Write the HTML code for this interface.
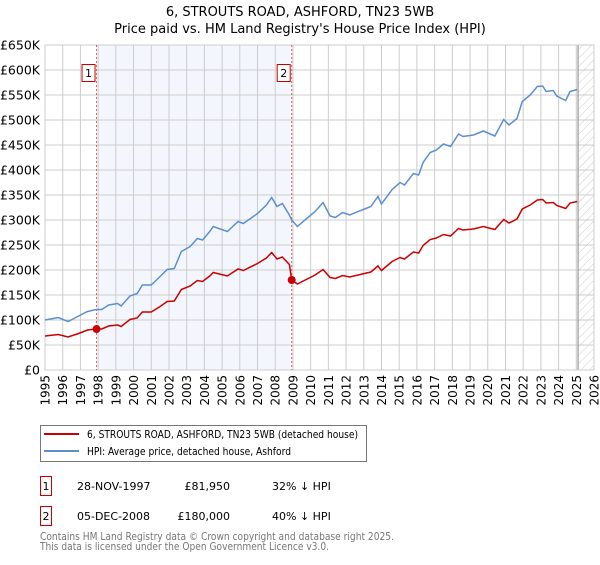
<!DOCTYPE html>
<html><head><meta charset="utf-8"><style>
body{margin:0;background:#fff;font-family:"Liberation Sans","DejaVu Sans",sans-serif;}
svg text{font-family:"DejaVu Sans","Liberation Sans",sans-serif;}
</style></head><body>
<svg id="chart" width="600" height="560" xmlns="http://www.w3.org/2000/svg">
<defs><pattern id="hatch" width="6" height="6" patternUnits="userSpaceOnUse" patternTransform="rotate(45)"><line x1="0" y1="0" x2="0" y2="6" stroke="#ccc" stroke-width="1"/></pattern></defs>
<text x="300" y="16" text-anchor="middle" font-size="13">6, STROUTS ROAD, ASHFORD, TN23 5WB</text>
<text x="300" y="33" text-anchor="middle" font-size="13">Price paid vs. HM Land Registry's House Price Index (HPI)</text>
<g id="grid"></g><g id="series"></g><g id="axes"></g>
<rect x="40.5" y="425.5" width="326" height="36" fill="#fff" stroke="#777"/>
<line x1="44" y1="434" x2="79" y2="434" stroke="#cc0000" stroke-width="2"/>
<text x="87" y="438" font-size="11" textLength="271" lengthAdjust="spacingAndGlyphs">6, STROUTS ROAD, ASHFORD, TN23 5WB (detached house)</text>
<line x1="44" y1="451" x2="79" y2="451" stroke="#5b8fd0" stroke-width="2"/>
<text x="87" y="455" font-size="11" textLength="204" lengthAdjust="spacingAndGlyphs">HPI: Average price, detached house, Ashford</text>
<g font-size="11">
<rect x="40.5" y="476.5" width="11" height="19" fill="#fff" stroke="#cc0000"/><text x="46" y="490" text-anchor="middle">1</text>
<text x="77" y="490">28-NOV-1997</text><text x="230" y="490" text-anchor="end">£81,950</text><text x="272" y="490">32% ↓ HPI</text></g>
<g font-size="11">
<rect x="40.5" y="506.5" width="11" height="19" fill="#fff" stroke="#cc0000"/><text x="46" y="520" text-anchor="middle">2</text>
<text x="77" y="520">05-DEC-2008</text><text x="230" y="520" text-anchor="end">£180,000</text><text x="272" y="520">40% ↓ HPI</text></g>
<text x="40" y="540" font-size="10.5" fill="#777" textLength="354" lengthAdjust="spacingAndGlyphs">Contains HM Land Registry data © Crown copyright and database right 2025.</text>
<text x="40" y="550" font-size="10.5" fill="#777" textLength="289" lengthAdjust="spacingAndGlyphs">This data is licensed under the Open Government Licence v3.0.</text>
</svg>
<script>
const years=[1995.0,1995.75,1996.3,1996.9,1997.4,1997.9,1998.2,1998.6,1999.1,1999.3,1999.8,2000.2,2000.5,2001.0,2001.5,2001.9,2002.3,2002.7,2003.2,2003.6,2003.9,2004.3,2004.5,2005.3,2005.9,2006.2,2007.0,2007.5,2007.8,2008.1,2008.4,2008.8,2008.93,2009.25,2010.25,2010.7,2011.1,2011.4,2011.8,2012.2,2013.4,2013.8,2014.0,2014.6,2015.05,2015.3,2015.8,2016.1,2016.35,2016.75,2017.1,2017.5,2017.9,2018.35,2018.6,2019.2,2019.75,2020.4,2020.9,2021.2,2021.65,2021.95,2022.4,2022.8,2023.1,2023.3,2023.7,2023.9,2024.4,2024.65,2025.05];
const hpiValues=[100,105,97,108,117,121,121,130,133,128,148,153,170,170,187,201,203,237,247,263,260,277,287,277,297,293,313,330,345,327,333,310,300,287,317,335,308,305,315,310,327,347,332,361,375,370,393,390,415,435,440,452,447,472,467,470,478,468,501,490,503,537,550,567,568,557,559,548,539,557,561];
const priceValues=[68,71,66,73,80,82,82,88,90,87,101,104,116,116,127,137,138,161,168,179,177,188,195,188,202,199,213,224,235,222,226,211,180,172,190,201,185,183,189,186,196,208,199,217,225,222,236,234,249,261,264,271,268,283,280,282,287,281,301,294,302,322,330,340,341,334,335,329,323,334,337];
const saleYears=[1997.91,2008.93];
const saleValues=[81.95,180];
const saleLabels=["1","2"];
const yTicks=[0,50,100,150,200,250,300,350,400,450,500,550,600,650];
const yTickLabels=["£0","£50K","£100K","£150K","£200K","£250K","£300K","£350K","£400K","£450K","£500K","£550K","£600K","£650K"];
const xTicks=[1995,1996,1997,1998,1999,2000,2001,2002,2003,2004,2005,2006,2007,2008,2009,2010,2011,2012,2013,2014,2015,2016,2017,2018,2019,2020,2021,2022,2023,2024,2025,2026];
const L=45,R=594,T=45,B=370,X0=1995,X1=2026,YMAX=650,dataEnd=2025.1;
const xs=v=>L+(v-X0)/(X1-X0)*(R-L);
const ys=v=>B-v/YMAX*(B-T);
const NS="http://www.w3.org/2000/svg";
function mk(p,t,a){const e=document.createElementNS(NS,t);for(const k in a)e.setAttribute(k,a[k]);p.appendChild(e);return e;}
const grid=document.getElementById('grid'),ser=document.getElementById('series'),ax=document.getElementById('axes');
const shade=mk(grid,'rect',{x:xs(saleYears[0]),y:T,width:xs(saleYears[1])-xs(saleYears[0]),height:B-T,fill:'#eef3fc',opacity:0.7});


const hat=mk(grid,'rect',{x:xs(dataEnd),y:T,width:R-xs(dataEnd),height:B-T,fill:'url(#hatch)'});


yTicks.forEach((v,i)=>{
 mk(grid,'line',{x1:L,x2:R,y1:ys(v),y2:ys(v),stroke:'#ccc','stroke-width':1});
 const t=mk(ax,'text',{x:L-5,y:ys(v)+4.5,'text-anchor':'end','font-size':12.5});t.textContent=yTickLabels[i];
 
 
});
xTicks.forEach(v=>{
 mk(grid,'line',{x1:xs(v),x2:xs(v),y1:T,y2:B,stroke:'#ccc','stroke-width':1});
 const t=mk(ax,'text',{x:0,y:0,'text-anchor':'end','font-size':12,transform:`translate(${xs(v)+4.5},${B+5}) rotate(-90)`});t.textContent=v;
 
 
});
mk(grid,'line',{x1:xs(dataEnd),x2:xs(dataEnd),y1:T,y2:B,stroke:'#999','stroke-width':1.2});
mk(grid,'rect',{x:L,y:T,width:R-L,height:B-T,fill:'none',stroke:'#ccc'});
saleYears.forEach((v,i)=>{
 const l=mk(ser,'line',{x1:xs(v),x2:xs(v),y1:T,y2:B,stroke:'#e06060','stroke-width':1,'stroke-dasharray':'2,2'});
 
 
});
const hp=mk(ser,'polyline',{points:years.map((y,i)=>xs(y)+','+ys(hpiValues[i])).join(' '),fill:'none',stroke:'#5b8fd0','stroke-width':1.5});


const pp=mk(ser,'polyline',{points:years.map((y,i)=>xs(y)+','+ys(priceValues[i])).join(' '),fill:'none',stroke:'#cc0000','stroke-width':1.5});


saleYears.forEach((v,i)=>{
 const c=mk(ser,'circle',{cx:xs(v),cy:ys(saleValues[i]),r:4,fill:'#cc0000'});
 
 
 const g=mk(ser,'g',{});
 
 
 mk(g,'rect',{x:xs(v)-14.5,y:64.5,width:13,height:17,fill:'#fff',stroke:'#cc0000'});
 const t=mk(g,'text',{x:xs(v)-8,y:77,'text-anchor':'middle','font-size':11});t.textContent=saleLabels[i];
});
</script>
</body></html>
